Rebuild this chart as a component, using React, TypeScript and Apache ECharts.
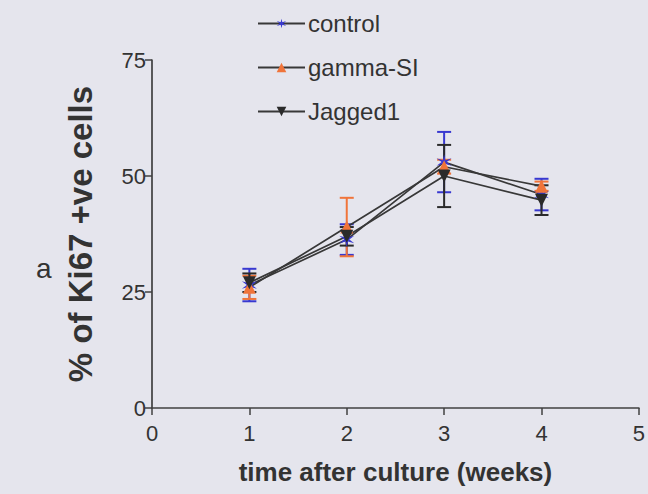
import React, { useEffect, useRef } from "react";
import * as echarts from "echarts";

const weeks = [1, 2, 3, 4];
const controlMean = [26.5, 36.3, 53, 46];
const controlErr = [3.5, 3.3, 6.5, 3.4];
const gammaMean = [26, 39, 52, 47.8];
const gammaErr = [2.5, 6.3, 1.5, 1];
const jaggedMean = [27, 37, 50, 44.8];
const jaggedErr = [2, 2, 6.7, 3.2];
const xTicks = [0, 1, 2, 3, 4, 5];
const yTicks = [0, 25, 50, 75];

const seriesNames = ["control", "gamma-SI", "Jagged1"];

function starPath(): string {
  const pts: string[] = [];
  for (let k = 0; k < 12; k++) {
    const a = (k * Math.PI) / 6 - Math.PI / 2;
    const r = k % 2 === 0 ? 10 : 3;
    pts.push(`${(10 + r * Math.cos(a)).toFixed(2)},${(10 + r * Math.sin(a)).toFixed(2)}`);
  }
  return "path://M" + pts.join(" L") + " Z";
}

export default function App() {
  const ref = useRef<HTMLDivElement>(null);
  useEffect(() => {
    if (!ref.current) return;
    const chart = echarts.init(ref.current, undefined, { renderer: "svg" });
    const lineColor = "#383838";
    const colors = ["#3838d0", "#f0743a", "#2a2a2a"];
    const means = [controlMean, gammaMean, jaggedMean];
    const errs = [controlErr, gammaErr, jaggedErr];
    const symbols = [starPath(), "triangle", "path://M0,0 L10,0 L5,10 Z"];
    const lineSeries = seriesNames.map((name, i) => ({
      name,
      type: "line",
      data: weeks.map((w, j) => [w, means[i][j]]),
      symbol: symbols[i],
      symbolSize: i === 0 ? 15 : 13,
      lineStyle: { color: lineColor, width: 1.7 },
      itemStyle: { color: colors[i] },
      z: 3,
    }));
    const errSeries = seriesNames.map((name, i) => ({
      name: name + "-err",
      type: "custom",
      data: weeks.map((w, j) => [w, means[i][j] - errs[i][j], means[i][j] + errs[i][j]]),
      renderItem: (params: any, api: any) => {
        const x = api.value(0);
        const lo = api.coord([x, api.value(1)]);
        const hi = api.coord([x, api.value(2)]);
        const hw = 7;
        const style = { stroke: colors[i], lineWidth: 2 };
        return {
          type: "group",
          children: [
            { type: "line", shape: { x1: lo[0], y1: lo[1], x2: hi[0], y2: hi[1] }, style },
            { type: "line", shape: { x1: lo[0] - hw, y1: lo[1], x2: lo[0] + hw, y2: lo[1] }, style },
            { type: "line", shape: { x1: hi[0] - hw, y1: hi[1], x2: hi[0] + hw, y2: hi[1] }, style },
          ],
        };
      },
      z: 2,
    }));
    chart.setOption({
      animation: false,
      backgroundColor: "#e5e5ed",
      textStyle: { fontFamily: "Liberation Sans, Arial, sans-serif" },
      legend: {
        data: seriesNames,
        orient: "vertical",
        left: 252,
        top: 6,
        itemWidth: 47,
        itemHeight: 12,
        itemGap: 19,
        textStyle: { fontSize: 24, color: "#333", lineHeight: 25, padding: [0, 0, 0, -2] },
      },
      grid: { left: 152, right: 7, top: 60, bottom: 86 },
      xAxis: {
        type: "value",
        min: xTicks[0],
        max: xTicks[xTicks.length - 1],
        interval: 1,
        name: "time after culture (weeks)",
        nameLocation: "middle",
        nameGap: 51,
        nameTextStyle: { fontSize: 26, fontWeight: "bold", color: "#333" },
        axisLine: { lineStyle: { color: "#404040", width: 1.7 } },
        axisTick: { length: 7, lineStyle: { color: "#404040", width: 1.5 } },
        axisLabel: { fontSize: 22, color: "#333", margin: 14 },
        splitLine: { show: false },
      },
      yAxis: {
        type: "value",
        min: yTicks[0],
        max: yTicks[yTicks.length - 1],
        interval: 25,
        name: "% of Ki67 +ve cells",
        nameLocation: "middle",
        nameGap: 55,
        nameTextStyle: { fontSize: 33, fontWeight: "bold", color: "#333" },
        axisLine: { show: true, lineStyle: { color: "#404040", width: 1.7 } },
        axisTick: { show: true, length: 7, lineStyle: { color: "#404040", width: 1.5 } },
        axisLabel: { fontSize: 22, color: "#333", margin: 6 },
        splitLine: { show: false },
      },
      graphic: [
        {
          type: "text",
          left: 36,
          top: 254,
          style: { text: "a", fontSize: 28, fill: "#333", fontFamily: "Liberation Sans, Arial, sans-serif" },
        },
      ],
      series: [...errSeries, ...lineSeries],
    });
    return () => chart.dispose();
  }, []);
  return (
    <div
      ref={ref}
      style={{ position: "fixed", left: 0, top: 0, width: 648, height: 494 }}
    />
  );
}
